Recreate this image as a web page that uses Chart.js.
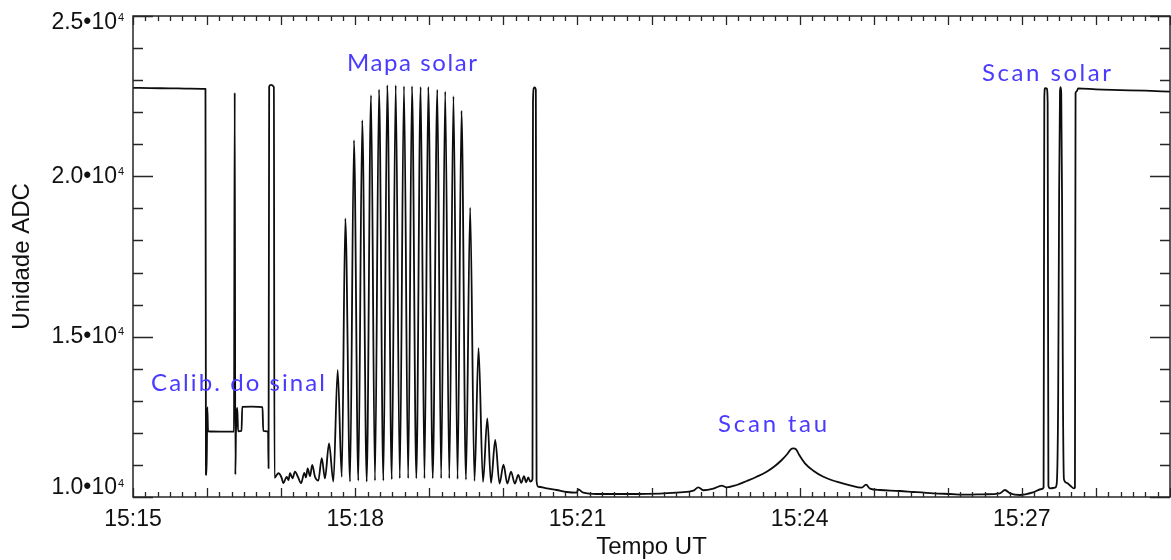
<!DOCTYPE html>
<html>
<head>
<meta charset="utf-8">
<title>Unidade ADC x Tempo UT</title>
<script src="https://cdn.jsdelivr.net/npm/chart.js@4.4.1/dist/chart.umd.min.js"></script>
<style>
  html, body { margin: 0; padding: 0; background: #ffffff; }
  #wrap { width: 1171px; height: 560px; }
</style>
</head>
<body>
<div id="wrap"><canvas id="c" width="1171" height="560"></canvas></div>
<script>
// Time axis: seconds after 15:15:00 UT. Values: raw ADC counts.

// Sky level, calibration steps and first pointings
const calibSec = [0, 14, 30, 46, 58.7, 59.1, 59.6, 60.2, 60.8, 70.5, 81.8, 82.4, 82.9, 83.4, 84.5, 85.1,
  87.9, 88.5, 96.4, 104.9, 105.5, 109.4, 109.8, 110.3, 111.8, 114.1, 114.6];
const calibAdc = [22760, 22750, 22745, 22735, 22725, 10700, 10690, 12800, 12050, 12040, 12040, 22610, 10700, 12040, 12780, 12050,
  12060, 12810, 12820, 12800, 12060, 12040, 10900, 22800, 22850, 22780, 10600];

// Solar map raster (alternating peaks and valleys)
const mapSec = [117.7, 120.5, 121.7, 124.5, 126.0, 127.2, 129.2, 131.2, 133.7, 136.1, 138.8, 140.1, 141.5, 143.4, 145.2, 147.4,
  150.1, 152.9, 155.5, 158.8, 162.3, 165.8, 169.1, 172.0, 175.8, 179.0, 182.5, 185.7, 189.3, 192.8, 196.0, 199.3,
  202.8, 206.0, 209.6, 212.8, 216.1, 219.5, 222.9, 226.0, 229.5, 233.0, 236.1, 239.2, 242.8, 246.5, 249.6, 252.9,
  256.2, 259.6, 262.9, 266.1, 269.7, 273.1, 276.6, 279.9, 283.5, 287.0, 290.0, 293.4, 296.9, 300.1, 303.2, 306.2,
  309.3, 312.1, 314.5, 316.7, 318.5, 320.2, 321.8, 323.6];
const mapAdc = [10740, 10590, 10430, 10630, 10530, 10740, 10580, 10790, 10620, 10430, 10750, 10610, 10890, 10650, 11000, 10630,
  10510, 11210, 10580, 11670, 10480, 13960, 10630, 18690, 10480, 21130, 10510, 21750, 10480, 22530, 10510, 22710,
  10510, 22840, 10550, 22840, 10580, 22810, 10580, 22810, 10580, 22790, 10580, 22790, 10580, 22700, 10580, 22650,
  10580, 22500, 10560, 22050, 10540, 19020, 10500, 14640, 10470, 12450, 10440, 11780, 10420, 11010, 10420, 10790,
  10420, 10690, 10440, 10650, 10460, 10610, 10480, 10560];

// Single pointing after the map
const pulseSec = [324.0, 324.6, 325.4, 326.3, 326.9, 328.3];
const pulseAdc = [22300, 22750, 22770, 22700, 10500, 10320];

// Tau scan (sky dip)
const tauSec = [335.1, 343.2, 351.3, 359.4, 360.7, 364.8, 375.6, 389.1, 402.6, 416.1, 429.6, 443.1, 453.9, 457.9, 462.0, 470.1,
  476.9, 480.9, 489.0, 497.1, 505.2, 513.3, 520.0, 525.5, 530.0, 532.8, 534.9, 537.1, 539.7, 544.3, 551.1, 559.2,
  570.0, 580.8, 590.3, 593.8, 597.0, 605.1, 621.3, 632.1, 648.3, 661.8, 675.3, 688.8, 702.3, 706.3, 710.4, 718.5,
  729.3, 736.1];
const tauAdc = [10270, 10218, 10156, 10134, 10239, 10134, 10094, 10094, 10094, 10100, 10115, 10146, 10197, 10302, 10210, 10260,
  10353, 10302, 10374, 10499, 10633, 10789, 10967, 11154, 11341, 11487, 11518, 11487, 11310, 11051, 10820, 10633,
  10477, 10364, 10290, 10384, 10260, 10218, 10187, 10156, 10115, 10094, 10072, 10084, 10115, 10218, 10115, 10062,
  10146, 10249];

// Solar scans and return to tracking
const scanSec = [737.6, 738.2, 738.8, 740.2, 740.9, 741.5, 742.9, 746.9, 748.2, 749.4, 750.2, 750.9, 751.4, 751.9, 752.6, 753.3,
  754.1, 756.3, 759.5, 762.2, 763.0, 763.5, 764.2, 765.7, 780, 800, 820, 840];
const scanAdc = [10300, 22450, 22750, 22740, 22300, 10350, 10270, 10290, 10400, 13000, 19500, 22650, 22780, 22600, 19000, 13000,
  10550, 10440, 10340, 10270, 10300, 22600, 22640, 22744, 22710, 22690, 22670, 22640];

// Axis ticks
const xTickSec = [0, 180, 360, 540, 720];
const xTickLabels = ['15:15', '15:18', '15:21', '15:24', '15:27'];
const yTickValues = [10000, 15000, 20000, 25000];
const yTickMantissa = ['1.0', '1.5', '2.0', '2.5'];

// Annotations
const noteTexts = ['Calib. do sinal', 'Mapa solar', 'Scan tau', 'Scan solar'];

const allSec = [].concat(calibSec, mapSec, pulseSec, tauSec, scanSec);
const allAdc = [].concat(calibAdc, mapAdc, pulseAdc, tauAdc, scanAdc);
const points = allSec.map((s, i) => ({ x: s, y: allAdc[i] }));

// anchors of the notes in data space (left edge, baseline) and their drawn widths
const noteAnchors = [
  { sec: 14.6, adc: 13305, width: 174 },
  { sec: 173.3, adc: 23283, width: 130 },
  { sec: 473.9, adc: 12036, width: 109 },
  { sec: 687.7, adc: 22971, width: 129 }
];

const LABEL_FONT = '"Liberation Sans", Arial, Helvetica, sans-serif';

const framePlugin = {
  id: 'idlFrame',
  afterDatasetsDraw(chart) {
    const { ctx, chartArea: a, scales } = chart;
    const xs = scales.x, ys = scales.y;
    ctx.save();

    // frame
    ctx.strokeStyle = '#262626';
    ctx.lineWidth = 1.5;
    ctx.strokeRect(a.left, a.top, a.right - a.left, a.bottom - a.top);

    // x ticks, bottom and top (minute ticks longer)
    ctx.lineWidth = 1.3;
    ctx.beginPath();
    for (let s = xs.min; s <= xs.max; s += 10) {
      const px = Math.round(xs.getPixelForValue(s)) + 0.5;
      const len = (s % 60 === 0) ? 9 : 5;
      ctx.moveTo(px, a.bottom); ctx.lineTo(px, a.bottom - len);
      ctx.moveTo(px, a.top); ctx.lineTo(px, a.top + len);
    }
    // y ticks, left and right
    for (let v = ys.min; v <= ys.max; v += 1000) {
      const py = Math.round(ys.getPixelForValue(v)) + 0.5;
      const len = (v % 5000 === 0) ? 20 : 10;
      ctx.moveTo(a.left, py); ctx.lineTo(a.left + len, py);
      ctx.moveTo(a.right, py); ctx.lineTo(a.right - len, py);
    }
    ctx.stroke();

    ctx.fillStyle = '#111111';
    // x tick labels
    ctx.font = '23px ' + LABEL_FONT;
    ctx.textAlign = 'center';
    ctx.textBaseline = 'middle';
    xTickSec.forEach((s, i) => {
      ctx.fillText(xTickLabels[i], xs.getPixelForValue(s), a.bottom + 23);
    });

    // y tick labels  m•10^4
    yTickValues.forEach((v, i) => {
      let py = ys.getPixelForValue(v);
      py = Math.min(Math.max(py, a.top + 6.5), a.bottom - 9);
      ctx.font = '23px ' + LABEL_FONT;
      ctx.textAlign = 'right';
      ctx.textBaseline = 'middle';
      ctx.fillText(yTickMantissa[i] + '\u202210', a.left - 16, py);
      ctx.font = '11px ' + LABEL_FONT;
      ctx.textBaseline = 'alphabetic';
      ctx.fillText('4', a.left - 9, py - 1.5);
    });

    // axis titles
    ctx.font = '24px ' + LABEL_FONT;
    ctx.textAlign = 'center';
    ctx.textBaseline = 'middle';
    ctx.fillText('Tempo UT', (a.left + a.right) / 2, 547);
    ctx.save();
    ctx.translate(22, (a.top + a.bottom) / 2);
    ctx.rotate(-Math.PI / 2);
    ctx.fillText('Unidade ADC', 0, 0);
    ctx.restore();

    // annotations
    ctx.fillStyle = '#4b3bff';
    ctx.font = '400 24px Lato, "Open Sans", sans-serif';
    ctx.textAlign = 'left';
    ctx.textBaseline = 'alphabetic';
    noteTexts.forEach((t, i) => {
      const n = noteAnchors[i];
      const left = xs.getPixelForValue(n.sec);
      const base = ys.getPixelForValue(n.adc);
      ctx.letterSpacing = '0px';
      const w0 = ctx.measureText(t).width;
      ctx.letterSpacing = ((n.width - w0) / (t.length - 1)).toFixed(2) + 'px';
      ctx.fillText(t, left, base);
    });
    ctx.letterSpacing = '0px';
    ctx.restore();
  }
};

new Chart(document.getElementById('c'), {
  type: 'line',
  data: {
    datasets: [{
      data: points,
      borderColor: '#0d0d0d',
      borderWidth: 1.8,
      borderJoinStyle: 'round',
      borderCapStyle: 'round',
      pointRadius: 0,
      fill: false,
      cubicInterpolationMode: 'monotone'
    }]
  },
  options: {
    responsive: false,
    devicePixelRatio: 1,
    animation: false,
    layout: { padding: { left: 133, right: 1, top: 16, bottom: 63 } },
    plugins: { legend: { display: false }, tooltip: { enabled: false } },
    scales: {
      x: { type: 'linear', min: 0, max: 840, display: false },
      y: { type: 'linear', min: 10000, max: 25000, display: false }
    }
  },
  plugins: [framePlugin]
});
</script>
</body>
</html>
